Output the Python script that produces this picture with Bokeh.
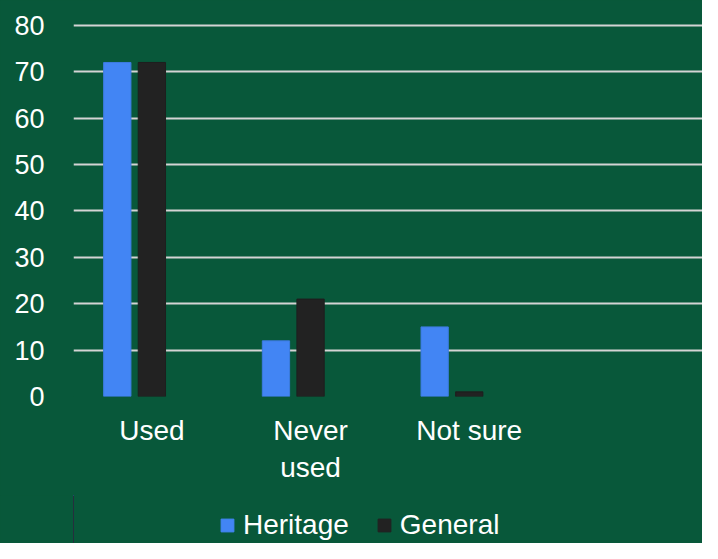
from bokeh.plotting import figure
from bokeh.layouts import column
from bokeh.models import Range1d, FixedTicker, ColumnDataSource, Legend, LegendItem
from bokeh.transform import dodge
from bokeh.embed import file_html
from bokeh.resources import INLINE

categories = ["Used", "Never\nused", "Not sure"]
heritage = [72, 12, 15]
general = [72, 21, 1]
series = ["Heritage", "General"]
colors = ["#4285F4", "#222222"]
y_ticks = [0, 10, 20, 30, 40, 50, 60, 70, 80]

FONT = "Liberation Sans"
BG = "#08583A"

pos = [i + 0.5 for i in range(len(categories))]
src = ColumnDataSource(dict(x=pos, heritage=heritage, general=general))

p = figure(width=702, height=495, output_backend="svg", toolbar_location=None,
           x_range=Range1d(0.006, 3.97), y_range=Range1d(0, 80.4),
           min_border_left=73, min_border_right=0, min_border_top=23,
           min_border_bottom=99, styles={"background-color": BG})
p.background_fill_color = BG
p.border_fill_color = BG
p.outline_line_color = None

p.vbar(x=dodge("x", -0.218, range=p.x_range), top="heritage", width=0.172,
       source=src, fill_color=colors[0], line_color="#3D7BE0", line_width=1)
p.vbar(x="x", top="general", width=0.172, source=src,
       fill_color=colors[1], line_color="#1E1E1E", line_width=1)

p.xaxis.ticker = FixedTicker(ticks=pos)
p.xaxis.major_label_overrides = {pos[i]: categories[i] for i in range(len(pos))}
p.xaxis.axis_line_color = None
p.xaxis.major_tick_line_color = None
p.xaxis.minor_tick_line_color = None
p.xaxis.major_label_text_color = "white"
p.xaxis.major_label_text_font = FONT
p.xaxis.major_label_text_font_size = "28px"
p.xaxis.major_label_standoff = 12

p.yaxis.ticker = FixedTicker(ticks=y_ticks)
p.yaxis.axis_line_color = None
p.yaxis.major_tick_line_color = None
p.yaxis.minor_tick_line_color = None
p.yaxis.major_label_text_color = "white"
p.yaxis.major_label_text_font = FONT
p.yaxis.major_label_text_font_size = "27px"
p.yaxis.major_label_standoff = 23

p.xgrid.grid_line_color = None
p.ygrid.grid_line_color = "#D4D4D4"
p.ygrid.grid_line_width = 2
p.ygrid.level = "underlay"

# legend strip below the chart (its renderers lie outside its visible range)
lf = figure(width=702, height=48, output_backend="svg", toolbar_location=None,
            x_range=Range1d(10, 11), y_range=Range1d(10, 11),
            min_border=0, min_border_left=0, min_border_right=0,
            min_border_top=0, min_border_bottom=0,
            styles={"background-color": BG})
lf.axis.visible = False
lf.grid.visible = False
lf.background_fill_color = BG
lf.border_fill_color = BG
lf.outline_line_color = None
items = []
for name, col in zip(series, colors):
    r = lf.vbar(x="x", top=name.lower(), width=0.1, source=src,
                fill_color=col, line_color=col)
    items.append(LegendItem(label=name, renderers=[r]))
legend = Legend(items=items, orientation="horizontal", location=(146, 2),
                background_fill_alpha=0, border_line_color=None,
                label_text_color="white", label_text_font=FONT,
                label_text_font_size="28px", glyph_width=16, glyph_height=16,
                label_standoff=8, spacing=27, padding=0, margin=0)
lf.add_layout(legend, "center")

layout = column(p, lf, spacing=0, styles={"background-color": BG})
open("out.html", "w").write(file_html(layout, INLINE))
